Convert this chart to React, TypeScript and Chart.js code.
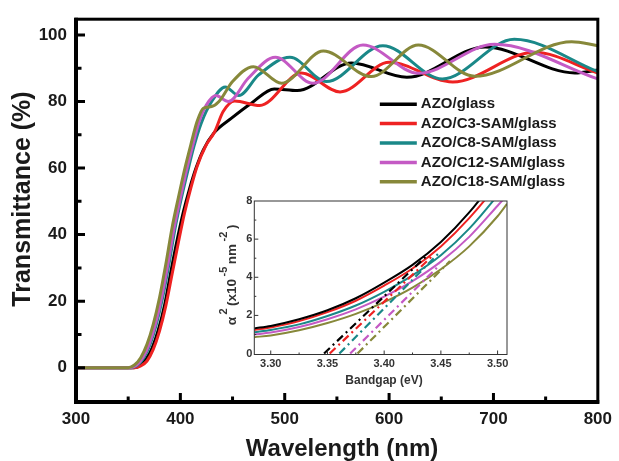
import React, { useEffect, useRef } from 'react';
import { Chart, registerables } from 'chart.js';

Chart.register(...registerables);

const FONT = "'Liberation Sans', Arial, Helvetica, sans-serif";
const W = 619;
const H = 461;

// ---------- Main chart data (Transmittance vs wavelength) ----------
const seriesLabels = ['AZO/glass', 'AZO/C3-SAM/glass', 'AZO/C8-SAM/glass', 'AZO/C12-SAM/glass', 'AZO/C18-SAM/glass'];
const seriesColors = ['#000000', '#ee2222', '#1a8888', '#c45ac4', '#87883a'];

const wlGlass = [300, 355, 361, 367, 373, 379, 385, 391, 397, 403, 409, 415, 422, 432, 449, 468, 490, 512, 564, 617, 692, 778, 800];
const tGlass = [0, 0, 0.6, 2.5, 6, 11.5, 19, 29, 38.5, 47, 54, 60, 65.5, 70.5, 75, 79.5, 83.8, 83.3, 91.6, 87.3, 96.4, 88.6, 89.5];

const wlC3 = [300, 356, 362, 368, 374, 380, 386, 392, 398, 404, 410, 416, 424, 433, 441, 452, 476, 516, 553, 600, 661, 739, 800];
const tC3 = [0, 0, 0.5, 2, 5.5, 11, 18.5, 28, 37.5, 46.5, 54, 60.5, 66.5, 71, 77, 80.2, 78.8, 88.6, 82.9, 91.8, 85.9, 94.8, 88.6];

const wlC8 = [300, 353, 359, 365, 371, 377, 383, 389, 395, 401, 407, 413, 420, 430, 443, 456, 475, 505, 540, 594, 651, 720, 800];
const tC8 = [0, 0, 0.8, 3, 7, 13, 21, 31, 42, 51, 59, 66.5, 73.5, 80, 84.4, 81.8, 88, 93.3, 86, 96.8, 86.8, 98.7, 89];

const wlC12 = [300, 352, 358, 364, 370, 376, 382, 388, 394, 400, 406, 412, 418, 425, 434, 446, 465, 491, 527, 575, 628, 701, 800];
const tC12 = [0, 0, 0.8, 3, 7, 13, 21, 31, 42, 51, 59.5, 67, 74, 79, 81.8, 80, 87, 93.3, 85.5, 97, 88.5, 97.2, 86.8];

const wlC18 = [300, 350, 356, 362, 368, 374, 380, 386, 392, 398, 404, 410, 416, 422, 430, 437, 450, 470, 497, 537, 583, 628, 682, 775, 800];
const tC18 = [0, 0, 0.8, 3, 7, 13, 21, 31, 42, 51, 59.5, 67, 74, 78, 78.5, 80, 86, 90.5, 85.5, 95.2, 87.5, 97, 87.6, 98, 96.8];

const mainWl = [wlGlass, wlC3, wlC8, wlC12, wlC18];
const mainT = [tGlass, tC3, tC8, tC12, tC18];

const xTitle = 'Wavelength (nm)';
const yTitle = 'Transmittance (%)';

// ---------- Inset data (alpha^2 vs photon energy) ----------
const insetEnergy = [3.2855, 3.3, 3.325, 3.35, 3.375, 3.4, 3.425, 3.45, 3.475, 3.5, 3.5083];
const a2Glass = [1.32, 1.45, 1.8, 2.27, 2.9, 3.72, 4.65, 5.85, 7.4, 9.3, 10];
const a2C3 = [1.24, 1.37, 1.7, 2.17, 2.77, 3.56, 4.46, 5.62, 7.1, 8.9, 9.6];
const a2C8 = [1.12, 1.24, 1.53, 1.97, 2.52, 3.24, 4.1, 5.15, 6.55, 8.3, 8.95];
const a2C12 = [1.0, 1.1, 1.39, 1.8, 2.32, 2.98, 3.8, 4.82, 6.12, 7.75, 8.3];
const a2C18 = [0.86, 0.95, 1.22, 1.6, 2.08, 2.7, 3.46, 4.42, 5.62, 7.2, 7.85];
const insetA2 = [a2Glass, a2C3, a2C8, a2C12, a2C18];

// linear extrapolation lines (energy, alpha^2) start/end
const fitE = [[3.347, 3.437], [3.352, 3.443], [3.3605, 3.448], [3.37, 3.449], [3.3765, 3.458]];
const fitA2 = [[0, 5.1], [0, 5.15], [0, 5.25], [0, 4.65], [0, 4.85]];

const insetXTitle = 'Bandgap (eV)';
const insetYTitleParts = [
  { t: 'α', sup: false },
  { t: '2', sup: true },
  { t: '(x10', sup: false },
  { t: '-5', sup: true },
  { t: 'nm', sup: false },
  { t: '-2', sup: true },
  { t: ')', sup: false },
];

// ---------- helpers ----------
function minorValues(vals: number[], min: number, max: number): number[] {
  const res: number[] = [];
  if (vals.length < 2) return res;
  const step = vals[1] - vals[0];
  for (let v = vals[0] - step / 2; v <= max + 1e-9; v += step) {
    if (v >= min - 1e-9) res.push(v);
  }
  return res;
}

function drawInwardTicks(chart: any, major: number, minor: number, width: number, color: string) {
  const { ctx, chartArea: a } = chart;
  const xs = chart.scales.x;
  const ys = chart.scales.y;
  ctx.save();
  ctx.strokeStyle = color;
  ctx.lineWidth = width;
  ctx.lineCap = 'butt';
  ctx.beginPath();
  const xv = xs.ticks.map((t: any) => t.value);
  const yv = ys.ticks.map((t: any) => t.value);
  const addX = (v: number, len: number) => {
    const p = xs.getPixelForValue(v);
    if (p > a.left + 3 && p < a.right - 3) {
      ctx.moveTo(p, a.bottom);
      ctx.lineTo(p, a.bottom - len);
    }
  };
  const addY = (v: number, len: number) => {
    const p = ys.getPixelForValue(v);
    if (p > a.top + 3 && p < a.bottom - 3) {
      ctx.moveTo(a.left, p);
      ctx.lineTo(a.left + len, p);
    }
  };
  xv.forEach((v: number) => addX(v, major));
  minorValues(xv, xs.min, xs.max).forEach((v) => addX(v, minor));
  yv.forEach((v: number) => addY(v, major));
  minorValues(yv, ys.min, ys.max).forEach((v) => addY(v, minor));
  ctx.stroke();
  ctx.restore();
}

const mainDecor = {
  id: 'mainDecor',
  afterDraw(chart: any, _args: any, opts: any) {
    const { ctx, chartArea: a } = chart;
    drawInwardTicks(chart, 9, 5.5, 3, '#000');
    ctx.save();
    ctx.strokeStyle = '#000';
    ctx.lineWidth = 3;
    ctx.strokeRect(a.left, a.top, a.right - a.left, a.bottom - a.top);
    ctx.lineWidth = 4;
    ctx.beginPath();
    ctx.moveTo(a.left, a.top - 1.5);
    ctx.lineTo(a.left, a.bottom);
    ctx.lineTo(a.right + 1.5, a.bottom);
    ctx.stroke();

    // axis titles (text from scale config)
    ctx.fillStyle = '#1a1a1a';
    ctx.textAlign = 'center';
    ctx.textBaseline = 'middle';
    ctx.font = `bold 24px ${FONT}`;
    ctx.fillText(chart.scales.x.options.title.text, opts.xTitleX, opts.xTitleY);
    ctx.save();
    ctx.translate(opts.yTitleX, opts.yTitleY);
    ctx.rotate(-Math.PI / 2);
    ctx.font = `bold 25px ${FONT}`;
    ctx.fillText(chart.scales.y.options.title.text, 0, 0);
    ctx.restore();

    // legend
    const lx = a.right - opts.legendRight;
    let ly = a.top + opts.legendTop;
    ctx.font = `bold 15px ${FONT}`;
    ctx.textAlign = 'left';
    chart.data.datasets.forEach((ds: any) => {
      ctx.strokeStyle = ds.borderColor;
      ctx.lineWidth = 3.5;
      ctx.beginPath();
      ctx.moveTo(lx, ly);
      ctx.lineTo(lx + 37, ly);
      ctx.stroke();
      ctx.fillStyle = '#1a1a1a';
      ctx.fillText(ds.label, lx + 41, ly);
      ly += 19.4;
    });
    ctx.restore();
  },
};

const insetDecor = {
  id: 'insetDecor',
  afterDraw(chart: any, _args: any, opts: any) {
    const { ctx, chartArea: a } = chart;
    drawInwardTicks(chart, 4, 2, 1, '#333');
    ctx.save();
    ctx.strokeStyle = '#333';
    ctx.lineWidth = 1;
    ctx.strokeRect(a.left, a.top, a.right - a.left, a.bottom - a.top);

    ctx.fillStyle = '#333';
    ctx.textAlign = 'center';
    ctx.textBaseline = 'middle';
    ctx.font = `bold 12px ${FONT}`;
    ctx.fillText(chart.scales.x.options.title.text, opts.xTitleX, opts.xTitleY);

    // rotated y title with superscripts
    const baseFont = `bold 13.5px ${FONT}`;
    const supFont = `bold 11px ${FONT}`;
    const gap = 2.5;
    let total = 0;
    const widths = opts.yParts.map((p: any) => {
      ctx.font = p.sup ? supFont : baseFont;
      const w = ctx.measureText(p.t).width;
      total += w;
      return w;
    });
    total += gap * (opts.yParts.length - 1);
    ctx.save();
    ctx.translate(opts.yTitleX, opts.yTitleY);
    ctx.rotate(-Math.PI / 2);
    ctx.textAlign = 'left';
    let x = -total / 2;
    opts.yParts.forEach((p: any, i: number) => {
      ctx.font = p.sup ? supFont : baseFont;
      ctx.fillText(p.t, x, p.sup ? -8.5 : 0);
      x += widths[i] + gap;
    });
    ctx.restore();
    ctx.restore();
  },
};

export default function App() {
  const mainRef = useRef<HTMLCanvasElement | null>(null);
  const insetRef = useRef<HTMLCanvasElement | null>(null);

  useEffect(() => {
    if (!mainRef.current || !insetRef.current) return;

    const mainDatasets = seriesLabels.map((label, i) => ({
      label,
      data: mainWl[i].map((x, j) => ({ x, y: mainT[i][j] })),
      borderColor: seriesColors[i],
      backgroundColor: seriesColors[i],
      borderWidth: 3,
      pointRadius: 0,
      fill: false,
      cubicInterpolationMode: 'monotone' as const,
      order: seriesLabels.length - i,
    }));

    const tickFont = { family: FONT, size: 17, weight: 'bold' as const };

    const main = new Chart(mainRef.current, {
      type: 'line',
      data: { datasets: mainDatasets },
      options: {
        animation: false,
        responsive: false,
        events: [],
        layout: { padding: { top: 15, right: 16, left: 0, bottom: 0 } },
        plugins: {
          legend: { display: false },
          tooltip: { enabled: false },
          mainDecor: { xTitleX: 342, xTitleY: 449.5, yTitleX: 23, yTitleY: 199, legendRight: 218, legendTop: 85 },
        } as any,
        scales: {
          x: {
            type: 'linear',
            min: 300,
            max: 800,
            ticks: { stepSize: 100, includeBounds: false, font: tickFont, color: '#1a1a1a', padding: 7, maxRotation: 0 },
            grid: { display: false, drawTicks: false },
            border: { display: false },
            title: { display: false, text: xTitle },
            afterFit: (s: any) => { s.height = 59; },
          },
          y: {
            type: 'linear',
            min: -10.32,
            max: 104.76,
            ticks: { stepSize: 20, includeBounds: false, font: tickFont, color: '#1a1a1a', padding: 9 },
            grid: { display: false, drawTicks: false },
            border: { display: false },
            title: { display: false, text: yTitle },
            afterFit: (s: any) => { s.width = 76; },
          },
        },
      },
      plugins: [mainDecor],
    });

    const insetCurves = seriesLabels.map((label, i) => ({
      label,
      data: insetEnergy.map((x, j) => ({ x, y: insetA2[i][j] })),
      borderColor: seriesColors[i],
      backgroundColor: seriesColors[i],
      borderWidth: 2,
      pointRadius: 0,
      fill: false,
      cubicInterpolationMode: 'monotone' as const,
      order: 10 + i,
    }));
    const insetFits = seriesLabels.map((label, i) => ({
      label: label + ' fit',
      data: fitE[i].map((x, j) => ({ x, y: fitA2[i][j] })),
      borderColor: seriesColors[i],
      backgroundColor: seriesColors[i],
      borderWidth: 2.2,
      borderDash: [8, 4, 2, 4],
      pointRadius: 0,
      fill: false,
      order: i,
    }));

    const insetTickFont = { family: FONT, size: 11, weight: 'bold' as const };

    const inset = new Chart(insetRef.current, {
      type: 'line',
      data: { datasets: [...insetCurves, ...insetFits] },
      options: {
        animation: false,
        responsive: false,
        events: [],
        layout: { padding: { top: 201, right: 112, left: 0, bottom: 0 } },
        plugins: {
          legend: { display: false },
          tooltip: { enabled: false },
          insetDecor: { xTitleX: 384, xTitleY: 381, yTitleX: 232, yTitleY: 275, yParts: insetYTitleParts },
        } as any,
        scales: {
          x: {
            type: 'linear',
            min: 3.2855,
            max: 3.5083,
            ticks: {
              stepSize: 0.05,
              includeBounds: false,
              font: insetTickFont,
              color: '#333',
              padding: 3,
              maxRotation: 0,
              callback: (v: any) => Number(v).toFixed(2),
            },
            grid: { display: false, drawTicks: false },
            border: { display: false },
            title: { display: false, text: insetXTitle },
            afterFit: (s: any) => { s.height = 106.5; },
          },
          y: {
            type: 'linear',
            min: -0.05,
            max: 8,
            ticks: { stepSize: 2, includeBounds: false, font: insetTickFont, color: '#333', padding: 2 },
            grid: { display: false, drawTicks: false },
            border: { display: false },
            title: { display: false, text: 'α2 (x10-5 nm-2)' },
            afterFit: (s: any) => { s.width = 254.3; },
          },
        },
      },
      plugins: [insetDecor],
    });

    return () => {
      main.destroy();
      inset.destroy();
    };
  }, []);

  const canvasStyle: React.CSSProperties = { position: 'absolute', left: 0, top: 0, width: W, height: H };
  return (
    <div style={{ position: 'absolute', left: 0, top: 0, width: W, height: H, background: '#fff' }}>
      <canvas ref={mainRef} width={W} height={H} style={canvasStyle} />
      <canvas ref={insetRef} width={W} height={H} style={canvasStyle} />
    </div>
  );
}
